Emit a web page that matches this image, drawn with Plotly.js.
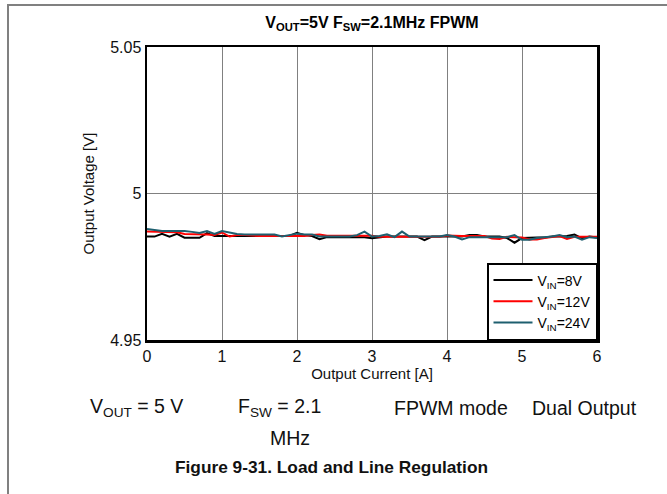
<!DOCTYPE html>
<html><head><meta charset="utf-8">
<script src="https://cdn.plot.ly/plotly-3.0.1.min.js"></script>
<style>
html,body{margin:0;padding:0;background:#fff;}
#wrap{position:relative;width:667px;height:494px;overflow:hidden;}
#frame{position:absolute;left:7px;top:4px;width:670px;height:500px;border-left:2px solid #808080;border-top:2px solid #808080;pointer-events:none;}
#chart{position:absolute;left:0;top:0;width:667px;height:494px;}
</style></head>
<body><div id="wrap"><div id="chart"></div><div id="frame"></div></div>
<script>
// Output current [A], 0.1 A steps
const current = [0,0.1,0.2,0.3,0.4,0.5,0.6,0.7,0.8,0.9,1.0,1.1,1.2,1.3,1.4,1.5,1.6,1.7,1.8,1.9,2.0,2.1,2.2,2.3,2.4,2.5,2.6,2.7,2.8,2.9,3.0,3.1,3.2,3.3,3.4,3.5,3.6,3.7,3.8,3.9,4.0,4.1,4.2,4.3,4.4,4.5,4.6,4.7,4.8,4.9,5.0,5.1,5.2,5.3,5.4,5.5,5.6,5.7,5.8,5.9,6.0];
const vin8 = [4.9853,4.9853,4.9862,4.9853,4.9862,4.9849,4.9849,4.9849,4.9865,4.9855,4.9855,4.9855,4.9855,4.9855,4.9855,4.9855,4.9855,4.9855,4.9855,4.9855,4.9866,4.9858,4.9855,4.9844,4.9851,4.9851,4.9851,4.9851,4.9851,4.9851,4.9847,4.9850,4.9853,4.9853,4.9853,4.9853,4.9853,4.9841,4.9853,4.9853,4.9853,4.9853,4.9853,4.9858,4.9858,4.9853,4.9853,4.9853,4.9848,4.9832,4.9848,4.9850,4.9850,4.9850,4.9853,4.9853,4.9855,4.9860,4.9847,4.9853,4.9850];
const vin12 = [4.9870,4.9870,4.9869,4.9868,4.9868,4.9862,4.9862,4.9862,4.9860,4.9858,4.9867,4.9853,4.9858,4.9858,4.9856,4.9855,4.9855,4.9855,4.9855,4.9855,4.9853,4.9855,4.9858,4.9860,4.9856,4.9856,4.9856,4.9856,4.9856,4.9856,4.9856,4.9852,4.9852,4.9852,4.9852,4.9852,4.9852,4.9852,4.9852,4.9852,4.9857,4.9855,4.9855,4.9855,4.9855,4.9855,4.9846,4.9845,4.9852,4.9852,4.9850,4.9843,4.9843,4.9848,4.9852,4.9855,4.9845,4.9852,4.9852,4.9852,4.9852];
const vin24 = [4.9879,4.9875,4.9872,4.9872,4.9872,4.9872,4.9869,4.9865,4.9872,4.9862,4.9872,4.9867,4.9862,4.9860,4.9860,4.9860,4.9860,4.9860,4.9853,4.9858,4.9863,4.9860,4.9860,4.9853,4.9853,4.9853,4.9853,4.9853,4.9858,4.9870,4.9853,4.9855,4.9861,4.9851,4.9870,4.9853,4.9853,4.9853,4.9853,4.9853,4.9858,4.9853,4.9843,4.9851,4.9851,4.9851,4.9851,4.9851,4.9851,4.9858,4.9842,4.9842,4.9848,4.9851,4.9853,4.9858,4.9851,4.9853,4.9842,4.9851,4.9848];
const seriesNames = ['V<sub>IN</sub>=8V','V<sub>IN</sub>=12V','V<sub>IN</sub>=24V'];
const seriesColors = ['#000000','#ff0000','#1e5f6f'];
const xTicks = [0,1,2,3,4,5,6];
const yTicks = [4.95,5,5.05];
const yTickText = ['4.95','5','5.05'];

const ys = [vin8, vin12, vin24];
const traces = ys.map((y,i)=>({
  x: current, y: y, type:'scatter', mode:'lines', name: seriesNames[i],
  line:{color: seriesColors[i], width:2}
}));

const F = 'Arial, "Liberation Sans", sans-serif';
const layout = {
  width:667, height:494,
  margin:{l:147, r:70, t:47, b:154},
  paper_bgcolor:'rgba(0,0,0,0)', plot_bgcolor:'#fff',
  font:{family:F, color:'#000'},
  title:{text:'<b>V<sub>OUT</sub>=5V F<sub>SW</sub>=2.1MHz FPWM</b>', font:{size:16, family:F, color:'#000'},
         x:0.5, xref:'paper', y:0.955, yref:'container', yanchor:'middle'},
  xaxis:{range:[0,6], tickvals:xTicks, showgrid:true, gridcolor:'#808080', gridwidth:1,
         showline:true, mirror:true, linecolor:'#000', linewidth:2.5, ticks:'', zeroline:false,
         tickfont:{size:16, family:F, color:'#111'},
         title:{text:'Output Current [A]', font:{size:15, family:F, color:'#111'}, standoff:2}},
  yaxis:{range:[4.95,5.05], tickvals:yTicks, ticktext:yTickText, showgrid:true, gridcolor:'#808080', gridwidth:1,
         showline:true, mirror:true, linecolor:'#000', linewidth:2.5, ticks:'', zeroline:false,
         tickfont:{size:16, family:F, color:'#111'},
         title:{text:'Output Voltage [V]', font:{size:15, family:F, color:'#111'}, standoff:12}},
  legend:{x:1, xanchor:'right', y:0, yanchor:'bottom', bgcolor:'#fff', bordercolor:'#000', borderwidth:1.5,
          font:{size:14, family:F, color:'#000'}, tracegroupgap:0, itemwidth:39},
  showlegend:true,
  annotations:[
    {text:'V<sub>OUT</sub> = 5 V', xref:'paper', yref:'paper', x:-0.131, y:-0.232, xanchor:'left', yanchor:'middle', showarrow:false, font:{size:19.5, family:F, color:'#111'}},
    {text:'F<sub>SW</sub> = 2.1', xref:'paper', yref:'paper', x:0.198, y:-0.232, xanchor:'left', yanchor:'middle', showarrow:false, font:{size:19.5, family:F, color:'#111'}},
    {text:'MHz', xref:'paper', yref:'paper', x:0.318, y:-0.334, xanchor:'center', yanchor:'middle', showarrow:false, font:{size:19.5, family:F, color:'#111'}},
    {text:'FPWM mode', xref:'paper', yref:'paper', x:0.544, y:-0.232, xanchor:'left', yanchor:'middle', showarrow:false, font:{size:19.5, family:F, color:'#111'}},
    {text:'Dual Output', xref:'paper', yref:'paper', x:0.851, y:-0.232, xanchor:'left', yanchor:'middle', showarrow:false, font:{size:19.5, family:F, color:'#111'}},
    {text:'<b>Figure 9-31. Load and Line Regulation</b>', xref:'paper', yref:'paper', x:0.411, y:-0.433, xanchor:'center', yanchor:'middle', showarrow:false, font:{size:17.3, family:F, color:'#111'}}
  ]
};
Plotly.newPlot('chart', traces, layout, {staticPlot:true, displayModeBar:false});
</script></body></html>
